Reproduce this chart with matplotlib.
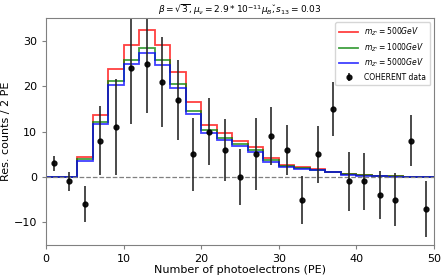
import numpy as np
import matplotlib
matplotlib.use("Agg")
import matplotlib.pyplot as plt

bin_edges = np.arange(0, 52, 2)
red_vals = [0, 0, 4.3, 13.7, 23.9, 29.2, 32.3, 29.1, 23.2, 16.5, 11.4, 9.6, 8.0,
            6.5, 4.2, 2.6, 2.1, 1.7, 1.2, 0.7, 0.4, 0.3, 0.2, 0.1, 0.05]
green_vals = [0, 0, 3.9, 12.2, 21.1, 25.8, 28.5, 25.8, 20.5, 14.6, 10.3, 8.5, 7.2,
              5.9, 3.7, 2.4, 1.95, 1.6, 1.1, 0.6, 0.35, 0.25, 0.15, 0.08, 0.04]
blue_vals = [0, 0, 3.6, 11.6, 20.2, 24.8, 27.3, 24.7, 19.6, 13.8, 9.6, 8.2, 6.9,
             5.6, 3.4, 2.2, 1.8, 1.5, 1.0, 0.5, 0.3, 0.2, 0.1, 0.05, 0.02]

data_x = [1, 3, 5, 7, 9, 11, 13, 15, 17, 19, 21, 23, 25, 27, 29, 31, 33, 35, 37, 39, 41, 43, 45, 47, 49]
data_y = [3, -1, -6, 8, 11, 24, 25, 21, 17, 5, 10, 6, 0, 5, 9, 6, -5, 5, 15, -1, -1, -4, -5, 8, -7]
data_err = [1.7, 2.2, 3.9, 7.6, 10.5, 12.3, 10.8, 9.9, 8.8, 8.0, 7.3, 6.8, 6.2, 7.9, 6.4,
            5.5, 5.3, 6.3, 6.0, 6.5, 6.2, 5.3, 5.9, 5.6, 6.2]

labels = [r"$m_{Z'}=500GeV$", r"$m_{Z'}=1000GeV$", r"$m_{Z'}=5000GeV$"]

fig = plt.figure(figsize=(4.47, 2.8), dpi=100)
ax = fig.add_axes([0.103, 0.125, 0.868, 0.81])

for vals, col, lab in zip([red_vals, green_vals, blue_vals], ["red", "green", "blue"], labels):
    ax.stairs(vals, bin_edges, color=col, lw=1.3, alpha=0.75, label=lab)

ax.axhline(0, color="gray", ls="--", lw=0.9)
ax.errorbar(data_x, data_y, yerr=data_err, fmt="o", color="black", ecolor=(0.15, 0.15, 0.15),
            ms=3.5, elinewidth=1.3, alpha=0.9, label="COHERENT data")

ax.set_xlim(0, 50)
ax.set_ylim(-15, 35)
ax.set_xticks([0, 10, 20, 30, 40, 50])
ax.set_yticks([-10, 0, 10, 20, 30])
ax.tick_params(labelsize=8, length=3, color="gray")
for s in ax.spines.values():
    s.set_color("gray")
ax.set_xlabel("Number of photoelectrons (PE)", fontsize=8, labelpad=1)
ax.set_ylabel("Res. counts / 2 PE", fontsize=8, labelpad=2)
ax.set_title(r"$\beta=\sqrt{3}, \mu_\nu=2.9*10^{-11}\mu_B, \check{s}_{13}=0.03$", fontsize=6.5, pad=4)
ax.legend(loc="upper right", fontsize=5.5, handlelength=2.5, labelspacing=0.4, borderpad=0.5)

fig.savefig("out.png", dpi=100)
